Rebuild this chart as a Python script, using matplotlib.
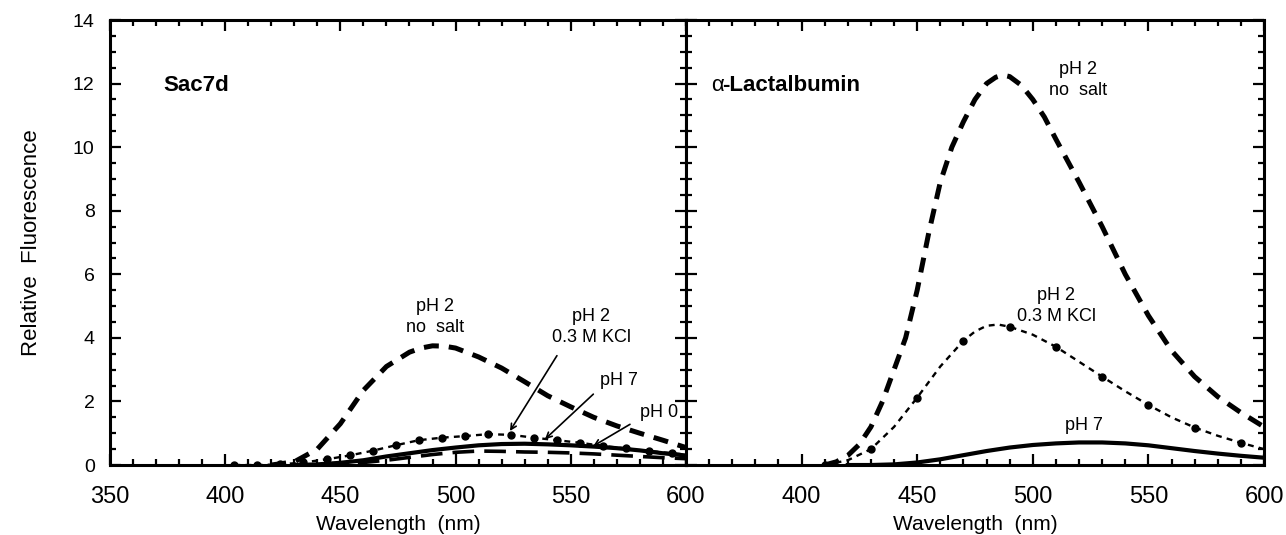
import numpy as np
import matplotlib
matplotlib.use('Agg')
import matplotlib.pyplot as plt
from matplotlib.ticker import MultipleLocator

plt.rcParams['font.family'] = ['Liberation Sans', 'DejaVu Sans']

# Sac7d spectra (wavelength nm, relative fluorescence)
sac_wl = [420, 430, 440, 450, 460, 470, 480, 485, 490, 495, 500, 510, 520, 530, 540, 550, 560, 570, 580, 590, 600]
sac_ph2_nosalt = [0.0, 0.1, 0.5, 1.3, 2.35, 3.1, 3.55, 3.68, 3.75, 3.74, 3.68, 3.4, 3.05, 2.62, 2.18, 1.83, 1.5, 1.23, 1.0, 0.78, 0.55]

sac_kcl_wl = [404, 414, 424, 434, 444, 454, 464, 474, 484, 494, 504, 514, 524, 534, 544, 554, 564, 574, 584, 594, 600]
sac_ph2_kcl = [0.0, 0.0, 0.02, 0.08, 0.18, 0.3, 0.45, 0.62, 0.78, 0.86, 0.91, 0.97, 0.95, 0.86, 0.78, 0.7, 0.6, 0.52, 0.44, 0.37, 0.33]

sac_wl2 = [430, 440, 450, 460, 470, 480, 490, 500, 510, 520, 530, 540, 550, 560, 570, 580, 590, 600]
sac_ph7 = [0.0, 0.02, 0.07, 0.15, 0.27, 0.37, 0.47, 0.55, 0.62, 0.66, 0.67, 0.65, 0.62, 0.58, 0.53, 0.46, 0.37, 0.3]
sac_ph0 = [0.0, 0.0, 0.03, 0.08, 0.15, 0.24, 0.33, 0.4, 0.44, 0.43, 0.41, 0.4, 0.38, 0.35, 0.31, 0.27, 0.23, 0.2]

# alpha-lactalbumin spectra
lac_wl = [410, 415, 420, 425, 430, 435, 440, 445, 450, 455, 460, 465, 470, 475, 480, 484, 487, 490, 495,
          500, 505, 510, 520, 530, 540, 550, 560, 570, 580, 590, 600]
lac_ph2_nosalt = [0.0, 0.1, 0.3, 0.65, 1.2, 2.0, 3.0, 4.0, 5.5, 7.3, 8.9, 10.0, 10.8, 11.5, 12.0, 12.2, 12.27, 12.22, 11.95,
                  11.5, 10.95, 10.25, 8.9, 7.5, 6.0, 4.7, 3.6, 2.78, 2.15, 1.65, 1.2]

lac_kcl_wl = [410, 420, 430, 440, 450, 460, 470, 475, 480, 485, 490, 500, 510, 520, 530, 540, 550, 560, 570, 580, 590, 600]
lac_ph2_kcl = [0.0, 0.15, 0.5, 1.2, 2.12, 3.1, 3.91, 4.2, 4.38, 4.42, 4.35, 4.1, 3.72, 3.25, 2.78, 2.32, 1.89, 1.5, 1.18, 0.92, 0.7, 0.5]
lac_kcl_marks = [410, 430, 450, 470, 490, 510, 530, 550, 570, 590]

lac_ph7_wl = [420, 430, 440, 450, 460, 470, 480, 490, 500, 510, 520, 530, 540, 550, 560, 570, 580, 590, 600]
lac_ph7 = [0.0, 0.0, 0.02, 0.08, 0.18, 0.31, 0.44, 0.55, 0.63, 0.68, 0.71, 0.71, 0.68, 0.62, 0.53, 0.44, 0.36, 0.29, 0.23]

xticks_left = [350, 400, 450, 500, 550, 600]
xticks_right = [400, 450, 500, 550, 600]
yticks = [0, 2, 4, 6, 8, 10, 12, 14]

fig = plt.figure(figsize=(12.86, 5.35), dpi=100)
ax1 = fig.add_axes([0.0855, 0.1308, 0.4479, 0.8318])
ax2 = fig.add_axes([0.5334, 0.1308, 0.4495, 0.8318])

nosalt_style = dict(color='k', lw=3.6, dashes=(3.0, 2.0))
kcl_style = dict(color='k', lw=1.7, dashes=(2.5, 2.2))
solid_style = dict(color='k', lw=3.0)
ph0_style = dict(color='k', lw=2.6, dashes=(6, 2.8))

lab = 13

# left panel
ax1.plot(sac_wl, sac_ph2_nosalt, **nosalt_style)
ax1.plot(sac_kcl_wl, sac_ph2_kcl, **kcl_style)
ax1.plot(sac_kcl_wl[:-1], sac_ph2_kcl[:-1], 'o', color='k', ms=5)
ax1.plot(sac_wl2, sac_ph7, **solid_style)
ax1.plot(sac_wl2, sac_ph0, **ph0_style)

ax1.text(491, 4.65, 'pH 2\nno  salt', ha='center', va='center', fontsize=lab, linespacing=1.3)
ax1.text(559, 4.33, 'pH 2\n0.3 M KCl', ha='center', va='center', fontsize=lab, linespacing=1.3)
ax1.text(571, 2.65, 'pH 7', ha='center', va='center', fontsize=lab)
ax1.text(588.5, 1.65, 'pH 0', ha='center', va='center', fontsize=lab)
arrow = dict(arrowstyle='->', color='k', lw=1.2, shrinkA=0, shrinkB=0)
ax1.annotate('', xy=(523.6, 1.07), xytext=(544, 3.44), arrowprops=arrow)
ax1.annotate('', xy=(538.8, 0.81), xytext=(559.8, 2.23), arrowprops=arrow)
ax1.annotate('', xy=(559.8, 0.6), xytext=(575.7, 1.28), arrowprops=arrow)
ax1.text(373, 11.95, 'Sac7d', ha='left', va='center', fontsize=16, fontweight='bold')

# right panel
ax2.plot(lac_wl, lac_ph2_nosalt, **nosalt_style)
ax2.plot(lac_kcl_wl, lac_ph2_kcl, **kcl_style)
marks = [lac_ph2_kcl[lac_kcl_wl.index(w)] for w in lac_kcl_marks]
ax2.plot(lac_kcl_marks, marks, 'o', color='k', ms=5)
ax2.plot(lac_ph7_wl, lac_ph7, **solid_style)

ax2.text(519.6, 12.1, 'pH 2\nno  salt', ha='center', va='center', fontsize=lab, linespacing=1.3)
ax2.text(510.2, 5.0, 'pH 2\n0.3 M KCl', ha='center', va='center', fontsize=lab, linespacing=1.3)
ax2.text(522.3, 1.25, 'pH 7', ha='center', va='center', fontsize=lab)
ax2.text(361, 11.95, '\u03b1', ha='left', va='center', fontsize=16)
ax2.text(365.5, 11.95, '-Lactalbumin', ha='left', va='center', fontsize=16, fontweight='bold')

for ax, xt in ((ax1, xticks_left), (ax2, xticks_right)):
    ax.set_xlim(350, 600)
    ax.set_ylim(0, 14)
    ax.set_xticks(xt)
    ax.set_yticks(yticks)
    ax.xaxis.set_minor_locator(MultipleLocator(10))
    ax.yaxis.set_minor_locator(MultipleLocator(0.5))
    ax.tick_params(which='both', direction='in', top=True, right=True, width=1.6)
    ax.tick_params(which='major', length=8)
    ax.tick_params(which='minor', length=4)
    ax.tick_params(axis='x', labelsize=17, pad=15)
    ax.tick_params(axis='y', labelsize=14, pad=11)
    for s in ax.spines.values():
        s.set_linewidth(2.2)
    ax.set_xlabel('Wavelength  (nm)', fontsize=15, labelpad=5)

ax2.tick_params(labelleft=False)
ax1.set_ylabel('Relative  Fluorescence', fontsize=16, labelpad=22)

fig.savefig('out.png', dpi=100)
